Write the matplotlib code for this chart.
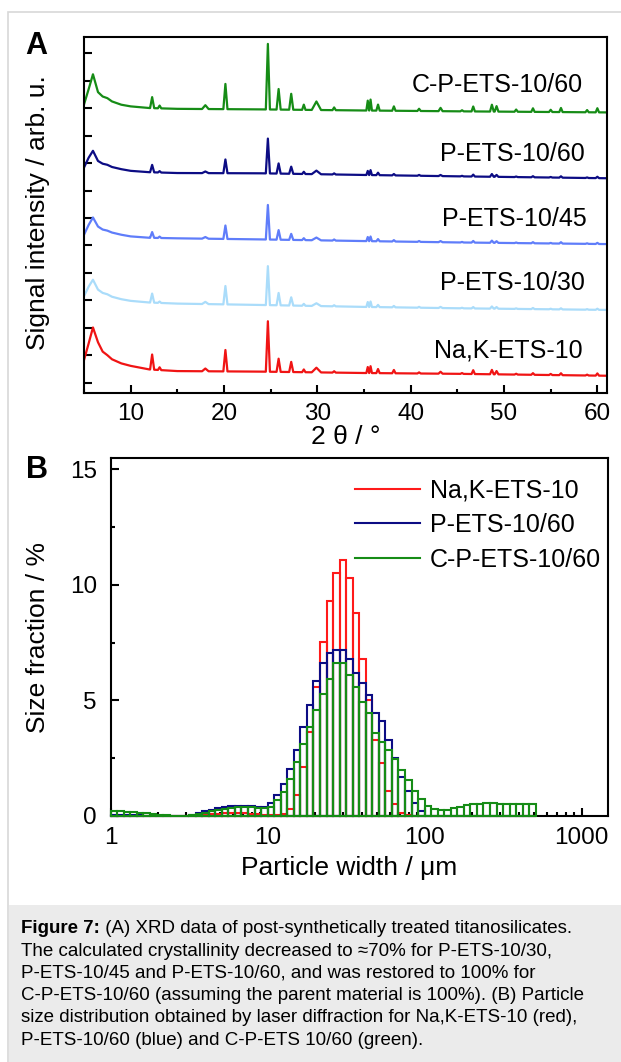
import matplotlib
matplotlib.use("Agg")
import matplotlib.pyplot as plt
import numpy as np
from matplotlib.lines import Line2D
from matplotlib.patches import Rectangle
from matplotlib.ticker import MultipleLocator, LogLocator, NullFormatter

plt.rcParams['font.family'] = ['Liberation Sans', 'DejaVu Sans']

# ---- panel A: XRD patterns (intensity relative to each trace's own baseline)
xrd_names = ["Na,K-ETS-10", "P-ETS-10/30", "P-ETS-10/45", "P-ETS-10/60", "C-P-ETS-10/60"]
xrd_colors = ["#f01414", "#aadcfa", "#5f7dfa", "#0c0c84", "#168c16"]
xrd_offset = [0.25, 2.65, 5.05, 7.45, 9.85]

bg_theta = [5.0, 5.5, 5.96, 6.5, 7.0, 7.5, 8.0, 9.0, 10.0, 12.0, 15.0, 24.0, 35.0, 45.0, 61.0]
bg_nak = [0.57, 1.18, 1.76, 1.22, 0.88, 0.75, 0.60, 0.45, 0.36, 0.23, 0.17, 0.15, 0.10, 0.07, 0.0]
bg_p30 = [0.50, 0.85, 1.10, 0.74, 0.62, 0.57, 0.48, 0.39, 0.33, 0.27, 0.23, 0.18, 0.11, 0.06, 0.0]
bg_p45 = [0.34, 0.70, 0.97, 0.64, 0.53, 0.49, 0.42, 0.34, 0.28, 0.23, 0.21, 0.17, 0.11, 0.06, 0.0]
bg_p60 = [0.39, 0.75, 1.00, 0.63, 0.53, 0.49, 0.41, 0.33, 0.27, 0.22, 0.19, 0.18, 0.12, 0.07, 0.0]
bg_cp60 = [0.29, 0.85, 1.39, 0.74, 0.58, 0.52, 0.40, 0.28, 0.22, 0.16, 0.13, 0.11, 0.07, 0.04, 0.0]

peak_theta = [12.3, 13.1, 18.0, 20.15, 24.7, 25.85, 27.2, 28.55, 29.9, 31.8, 35.4, 35.7, 36.5,
              38.2, 40.9, 43.2, 45.5, 46.7, 48.7, 49.2, 51.3, 53.1, 55.0, 56.1, 58.9, 60.0]
peak_halfwidth = [0.22, 0.18, 0.35, 0.22, 0.22, 0.22, 0.22, 0.18, 0.5, 0.18, 0.15, 0.15, 0.18,
                  0.18, 0.18, 0.22, 0.18, 0.18, 0.2, 0.2, 0.18, 0.18, 0.18, 0.18, 0.18, 0.18]
pk_nak = [0.55, 0.10, 0.10, 0.78, 1.84, 0.48, 0.37, 0.10, 0.17, 0.05, 0.22, 0.25, 0.15,
          0.12, 0.04, 0.07, 0.03, 0.14, 0.16, 0.12, 0.03, 0.06, 0.04, 0.07, 0.03, 0.08]
pk_p30 = [0.33, 0.05, 0.08, 0.67, 1.42, 0.45, 0.30, 0.07, 0.10, 0.04, 0.18, 0.20, 0.08,
          0.05, 0.03, 0.04, 0.02, 0.05, 0.08, 0.06, 0.02, 0.04, 0.02, 0.04, 0.02, 0.04]
pk_p45 = [0.21, 0.05, 0.06, 0.49, 1.26, 0.35, 0.22, 0.07, 0.10, 0.04, 0.15, 0.17, 0.08,
          0.05, 0.03, 0.04, 0.02, 0.06, 0.08, 0.06, 0.02, 0.04, 0.02, 0.05, 0.02, 0.04]
pk_p60 = [0.27, 0.05, 0.06, 0.50, 1.27, 0.37, 0.26, 0.08, 0.13, 0.04, 0.15, 0.18, 0.09,
          0.05, 0.03, 0.04, 0.02, 0.07, 0.10, 0.07, 0.02, 0.04, 0.02, 0.05, 0.02, 0.05]
pk_cp60 = [0.40, 0.10, 0.14, 0.92, 2.39, 0.75, 0.58, 0.19, 0.31, 0.10, 0.36, 0.40, 0.22,
           0.16, 0.08, 0.12, 0.04, 0.18, 0.25, 0.20, 0.08, 0.13, 0.08, 0.15, 0.08, 0.15]

xrd_bg = [bg_nak, bg_p30, bg_p45, bg_p60, bg_cp60]
xrd_pk = [pk_nak, pk_p30, pk_p45, pk_p60, pk_cp60]

# ---- panel B: particle size distribution, 24 bins per decade starting at 1 um
psd_names = ["Na,K-ETS-10", "P-ETS-10/60", "C-P-ETS-10/60"]
psd_colors = ["#ff1a1a", "#0c0c84", "#168c16"]
psd_nak = [0.0] * 12 + [0.02, 0.04, 0.06, 0.08, 0.1, 0.12, 0.13, 0.13, 0.12, 0.1, 0.08, 0.05] + \
          [0.03, 0.05, 0.1, 0.3, 0.9, 2.1, 3.65, 5.6, 7.55, 9.3, 10.5, 11.1, 10.3, 8.8, 6.8, 5.0,
           3.3, 2.3, 1.1, 0.5, 0.15, 0.05] + [0.0] * 19
psd_p60 = [0.05, 0.05, 0.04, 0.03, 0.03, 0.02, 0.02, 0.01, 0.01, 0.0, 0.0, 0.02, 0.06, 0.12,
           0.2, 0.27, 0.33, 0.38, 0.42, 0.44, 0.44, 0.43, 0.41, 0.4] + \
          [0.55, 0.9, 1.4, 2.05, 2.85, 3.85, 4.8, 5.85, 6.6, 7.05, 7.2, 7.2, 6.8, 6.2, 5.75, 5.25,
           4.45, 4.1, 3.3, 2.5, 1.7, 1.1, 0.55, 0.2] + [0.0] * 17
psd_cp60 = [0.2, 0.2, 0.19, 0.17, 0.15, 0.13, 0.1, 0.06, 0.03, 0.01, 0.0, 0.01, 0.04, 0.08,
            0.14, 0.2, 0.26, 0.31, 0.35, 0.38, 0.4, 0.38, 0.36, 0.33] + \
           [0.4, 0.7, 1.05, 1.6, 2.35, 3.1, 3.85, 4.6, 5.3, 5.95, 6.6, 6.6, 6.1, 5.6, 4.95, 4.45,
            3.6, 3.2, 2.85, 2.45, 2.0, 1.55, 1.1, 0.75] + \
           [0.43, 0.29, 0.26, 0.28, 0.33, 0.4, 0.46, 0.5, 0.53, 0.55, 0.55, 0.53, 0.52, 0.52,
            0.5, 0.5, 0.5]
psd_vals = [psd_nak, psd_p60, psd_cp60]
bin_edges = 10 ** (np.arange(len(psd_cp60) + 1) / 24)

caption_first = "(A) XRD data of post-synthetically treated titanosilicates."
caption_lines = [
    "The calculated crystallinity decreased to \u224870% for P-ETS-10/30,",
    "P-ETS-10/45 and P-ETS-10/60, and was restored to 100% for",
    "C-P-ETS-10/60 (assuming the parent material is 100%). (B) Particle",
    "size distribution obtained by laser diffraction for Na,K-ETS-10 (red),",
    "P-ETS-10/60 (blue) and C-P-ETS 10/60 (green).",
]

W, H = 621, 1062
fig = plt.figure(figsize=(W / 100, H / 100), dpi=100)

# page frame + caption box
fig.patches.append(Rectangle((8 / W, -0.01), 1.0, 1 - 12 / H + 0.01, transform=fig.transFigure,
                             facecolor="none", edgecolor="#d8d8d8", lw=1.2, zorder=0))
fig.patches.append(Rectangle((8.6 / W, 0), 1.0, 1 - 905 / H, transform=fig.transFigure,
                             facecolor="#ebebeb", edgecolor="none", zorder=0))


def trace(bg, heights):
    xs = list(bg_theta)
    ys = list(bg)
    for p, w, h in zip(peak_theta, peak_halfwidth, heights):
        for x, extra in ((p - w, 0.0), (p, h), (p + w, 0.0)):
            xs.append(x)
            ys.append(np.interp(x, bg_theta, bg) + extra)
    order = np.argsort(xs, kind="stable")
    return np.array(xs)[order], np.array(ys)[order]


# ---------------- panel A
ax1 = fig.add_axes([84 / W, 1 - 393.3 / H, 522.7 / W, 356.6 / H])
ax1.set_zorder(2)
for name, col, off, bg, pk in zip(xrd_names, xrd_colors, xrd_offset, xrd_bg, xrd_pk):
    x, y = trace(bg, pk)
    ax1.plot(x, y + off, color=col, lw=1.6)
ax1.set_xlim(5, 61)
ax1.set_ylim(-0.39, 12.61)
ax1.set_yticks(range(13))
ax1.xaxis.set_major_locator(MultipleLocator(10))
ax1.xaxis.set_minor_locator(MultipleLocator(5))
ax1.tick_params(which="both", direction="in", top=False, right=False, width=1.5,
                labelsize=17.5)
ax1.tick_params(which="major", length=6, pad=7)
ax1.tick_params(which="minor", length=3)
ax1.tick_params(axis="y", labelleft=False)
for s in ax1.spines.values():
    s.set_linewidth(1.5)
ax1.set_xlabel("2 \u03b8 / \u00b0", fontsize=19, va="center")
ax1.xaxis.set_label_coords(0.5, -0.1225)
ax1.set_ylabel("Signal intensity / arb. u.", fontsize=19, va="center")
ax1.yaxis.set_label_coords(-0.088, 0.508)

label_y = [0.119, 0.309, 0.489, 0.671, 0.8646]
label_x = [0.954, 0.958, 0.961, 0.958, 0.954]
for name, lx, ly in zip(xrd_names, label_x, label_y):
    ax1.text(lx, ly, name, transform=ax1.transAxes, ha="right", va="center", fontsize=18)

# ---------------- panel B
ax2 = fig.add_axes([110.7 / W, 1 - 816 / H, 497.6 / W, 357.7 / H])
ax2.set_zorder(2)
for k, (name, col, vals) in enumerate(zip(psd_names, psd_colors, psd_vals)):
    ax2.bar(bin_edges[:-1], vals, width=np.diff(bin_edges), align="edge", fill=False,
            edgecolor=col, linewidth=1.5, zorder=3 + k, clip_on=False)
ax2.set_xscale("log")
ax2.set_xlim(1, 1480)
ax2.set_ylim(0, 15.48)
ax2.set_yticks([0, 5, 10, 15])
ax2.yaxis.set_minor_locator(MultipleLocator(2.5))
ax2.xaxis.set_minor_locator(LogLocator(base=10, subs=np.arange(2, 10)))
ax2.xaxis.set_minor_formatter(NullFormatter())
ax2.set_xticks([1, 10, 100, 1000])
ax2.set_xticklabels(["1", "10", "100", "1000"])
ax2.tick_params(which="both", direction="in", top=False, right=False, width=1.5,
                labelsize=17.5)
ax2.tick_params(which="major", length=6, pad=8)
ax2.tick_params(which="minor", length=3)
ax2.tick_params(axis="y", pad=10)
for s in ax2.spines.values():
    s.set_linewidth(1.5)
ax2.set_xlabel("Particle width / \u03bcm", fontsize=19, va="center")
ax2.xaxis.set_label_coords(0.48, -0.145)
ax2.set_ylabel("Size fraction / %", fontsize=19, va="center")
ax2.yaxis.set_label_coords(-0.146, 0.498)

handles = [Line2D([], [], color=c, lw=1.5) for c in psd_colors]
ax2.legend(handles, psd_names, loc="upper left", bbox_to_anchor=(0.491, 0.943), frameon=False,
           fontsize=18, handlelength=2.6, handletextpad=0.4, labelspacing=0.42,
           borderpad=0, borderaxespad=0)

# panel letters
fig.text(36.5 / W, 1 - 45.8 / H, "A", fontsize=22, fontweight="bold", ha="center", va="center")
fig.text(36.5 / W, 1 - 470 / H, "B", fontsize=22, fontweight="bold", ha="center", va="center")

# caption
cap_font = ["Liberation Sans Narrow", "Liberation Sans", "DejaVu Sans"]
y0 = 933.3
step = 22.3
t = fig.text(21 / W, 1 - y0 / H, "Figure 7:", family=cap_font, fontsize=13.5,
             fontweight="bold", va="baseline")
fig.texts.append(matplotlib.text.Annotation(" " + caption_first, xy=(1, 0), xycoords=t,
                                            va="bottom", ha="left", family=cap_font,
                                            fontsize=13.5))
fig.texts[-1].set_figure(fig)
for i, line in enumerate(caption_lines):
    fig.text(21 / W, 1 - (y0 + step * (i + 1)) / H, line, family=cap_font, fontsize=13.5,
             va="baseline")

fig.savefig("out.png", dpi=100)
